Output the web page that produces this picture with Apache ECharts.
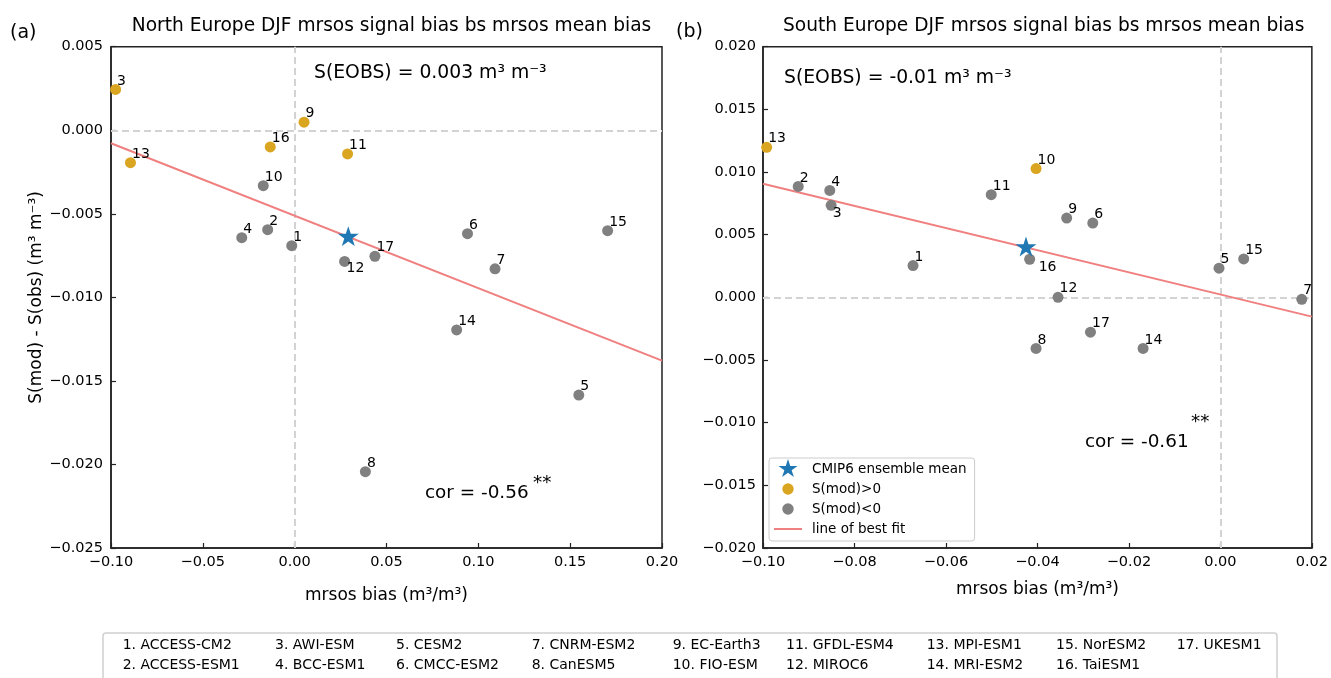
<!DOCTYPE html>
<html>
<head>
<meta charset="utf-8">
<script src="https://cdn.jsdelivr.net/npm/echarts@6/dist/echarts.min.js"></script>
<style>
html, body { margin: 0; padding: 0; background: #fff; }
#chart { width: 1331px; height: 678px; }
</style>
</head>
<body>
<div id="chart"></div>
<script>
// model numbers and names (index i -> model number i+1)
const modelIds = [1, 2, 3, 4, 5, 6, 7, 8, 9, 10, 11, 12, 13, 14, 15, 16, 17];
const modelNames = ['ACCESS-CM2', 'ACCESS-ESM1', 'AWI-ESM', 'BCC-ESM1', 'CESM2', 'CMCC-ESM2', 'CNRM-ESM2',
    'CanESM5', 'EC-Earth3', 'FIO-ESM', 'GFDL-ESM4', 'MIROC6', 'MPI-ESM1', 'MRI-ESM2', 'NorESM2', 'TaiESM1', 'UKESM1'];

// North Europe: mrsos mean bias (x) vs signal bias (y)
const northBias = [-0.0016, -0.0147, -0.0975, -0.0288, 0.1547, 0.0941, 0.1091, 0.0385, 0.0051,
    -0.0171, 0.0288, 0.0272, -0.0894, 0.0882, 0.1704, -0.0133, 0.0437];
const northSignal = [-0.00691, -0.00595, 0.00244, -0.00643, -0.01585, -0.00619, -0.00829, -0.02043, 0.00048,
    -0.00332, -0.00142, -0.00785, -0.00194, -0.01195, -0.00601, -0.00100, -0.00754];
const northPositive = [3, 9, 11, 13, 16];   // models with S(mod)>0
const northMean = [0.0292, -0.0064];
const northFitX = [-0.10, 0.20];
const northFitY = [-0.00078, -0.01379];

// South Europe
const southBias = [-0.0672, -0.0923, -0.0851, -0.0854, -0.0003, -0.0279, 0.0178, -0.0403, -0.0336,
    -0.0403, -0.0501, -0.0355, -0.0992, -0.0169, 0.0051, -0.0417, -0.0284];
const southSignal = [0.00254, 0.00885, 0.00734, 0.00853, 0.00233, 0.00593, -0.00016, -0.00408, 0.00633,
    0.01028, 0.00819, 0.00000, 0.01197, -0.00408, 0.00307, 0.00304, -0.00278];
const southPositive = [10, 13];
const southMean = [-0.0425, 0.00397];
const southFitX = [-0.10, 0.02];
const southFitY = [0.00906, -0.00154];

// axis ticks: [min, max, step]
const northXTicks = [-0.10, 0.20, 0.05];
const northYTicks = [-0.025, 0.005, 0.005];
const southXTicks = [-0.10, 0.02, 0.02];
const southYTicks = [-0.020, 0.020, 0.005];

const FONT = 'DejaVu Sans';
const starPath = 'path://M0,0M20,20M10,0L12.245,6.91L19.511,6.91L13.633,11.18L15.878,18.09L10,13.82L4.122,18.09L6.367,11.18L0.489,6.91L7.755,6.91Z';
const dotPath = 'path://M0,0M20,20M4.3,10A5.7,5.7,0,1,1,15.7,10A5.7,5.7,0,1,1,4.3,10Z';
const linePath = 'path://M0,0M28,20M0,9H28V11H0Z';

function fmt(digits) {
    return function (v) {
        if (Math.abs(v) < 1e-9) v = 0;
        return v.toFixed(digits).replace('-', '\u2212');
    };
}

// label placement: above-right by default, some below-right
function labelOffset(panel, id) {
    if (panel === 'north' && id === 12) return [-3.5, 7];
    if (panel === 'south' && id === 3) return [-4, 7.5];
    if (panel === 'south' && id === 16) return [3.5, 8.5];
    return [-4, -8.5];
}

function points(panel, xs, ys, posList, wantPos) {
    const out = [];
    modelIds.forEach(function (id, i) {
        const isPos = posList.indexOf(id) >= 0;
        if (isPos !== wantPos) return;
        out.push({
            name: String(id),
            value: [xs[i], ys[i]],
            label: { offset: labelOffset(panel, id) }
        });
    });
    return out;
}

function panelSeries(k, panel, xs, ys, posList, mean, fitX, fitY) {
    return [
        {
            name: 'line of best fit', type: 'line', xAxisIndex: k, yAxisIndex: k, z: 2,
            symbol: 'none', data: [[fitX[0], fitY[0]], [fitX[1], fitY[1]]],
            lineStyle: { color: '#f08080', width: 2 }, itemStyle: { color: '#f08080' },
            silent: true,
            markLine: {
                silent: true, symbol: ['none', 'none'], z: 1, animation: false,
                label: { show: false },
                lineStyle: { color: '#d3d3d3', type: [7, 4], width: 2 },
                data: [{ xAxis: 0 }, { yAxis: 0 }]
            }
        },
        {
            name: 'S(mod)>0', type: 'scatter', xAxisIndex: k, yAxisIndex: k, z: 3,
            symbol: 'circle', symbolSize: 11, itemStyle: { color: '#daa520', opacity: 1 },
            label: { show: true, position: 'right', distance: 0, formatter: '{b}',
                fontFamily: FONT, fontSize: 14, color: '#000' },
            data: points(panel, xs, ys, posList, true)
        },
        {
            name: 'S(mod)<0', type: 'scatter', xAxisIndex: k, yAxisIndex: k, z: 3,
            symbol: 'circle', symbolSize: 11, itemStyle: { color: '#808080', opacity: 1 },
            label: { show: true, position: 'right', distance: 0, formatter: '{b}',
                fontFamily: FONT, fontSize: 14, color: '#000' },
            data: points(panel, xs, ys, posList, false)
        },
        {
            name: 'CMIP6 ensemble mean', type: 'scatter', xAxisIndex: k, yAxisIndex: k, z: 4,
            symbol: starPath, symbolSize: 22, symbolKeepAspect: true,
            itemStyle: { color: '#1f77b4', opacity: 1 },
            data: [mean]
        }
    ];
}

function axisCommon(ticks, digits) {
    return {
        type: 'value', min: ticks[0], max: ticks[1], interval: ticks[2],
        splitLine: { show: false },
        axisLine: { show: true, onZero: false, lineStyle: { color: '#222', width: 1.5 } },
        axisTick: { show: true, inside: true, length: 5, lineStyle: { color: '#222', width: 1.2 } },
        axisLabel: { formatter: fmt(digits), fontFamily: FONT, fontSize: 14.5, color: '#000', showMaxLabel: true, showMinLabel: true },
        nameTextStyle: { fontFamily: FONT, fontSize: 17, color: '#000' }
    };
}

const gridBox = { show: true, borderColor: '#222', borderWidth: 1.5, backgroundColor: 'transparent' };

const xA0 = Object.assign(axisCommon(northXTicks, 2), { gridIndex: 0, name: 'mrsos bias (m³/m³)', nameLocation: 'middle', nameGap: 39 });
xA0.axisLabel.margin = 7;
const xA1 = Object.assign(axisCommon(southXTicks, 2), { gridIndex: 1, name: 'mrsos bias (m³/m³)', nameLocation: 'middle', nameGap: 33 });
xA1.axisLabel.margin = 7;
const yA0 = Object.assign(axisCommon(northYTicks, 3), { gridIndex: 0, name: 'S(mod) - S(obs) (m³ m⁻³)', nameLocation: 'middle', nameGap: 64 });
yA0.axisLabel.margin = 8;
const yA1 = Object.assign(axisCommon(southYTicks, 3), { gridIndex: 1 });
yA1.axisLabel.margin = 7;

// model list below the panels
const colX = [122.7, 275, 396, 531.7, 672.7, 786, 926.7, 1056, 1176.7];
const listText = [];
modelIds.forEach(function (id, i) {
    const col = Math.floor(i / 2), row = i % 2;
    listText.push({
        type: 'text', left: colX[col], top: row === 0 ? 638 : 658,
        style: { text: id + '. ' + modelNames[i], fontFamily: FONT, fontSize: 14, fill: '#000' }
    });
});

const txt = function (x, y, s, size) {
    return { type: 'text', x: x, y: y, style: { text: s, fontFamily: FONT, fontSize: size, fill: '#000', textVerticalAlign: 'middle' } };
};

const chart = echarts.init(document.getElementById('chart'), null, { renderer: 'canvas' });
chart.setOption({
    animation: false,
    backgroundColor: '#fff',
    title: [
        { text: 'North Europe DJF mrsos signal bias bs mrsos mean bias', left: 386.5, top: 12, textAlign: 'center',
            textStyle: { fontFamily: FONT, fontSize: 18.6, fontWeight: 'normal', color: '#000' } },
        { text: 'South Europe DJF mrsos signal bias bs mrsos mean bias', left: 1038.7, top: 12, textAlign: 'center',
            textStyle: { fontFamily: FONT, fontSize: 18.6, fontWeight: 'normal', color: '#000' } }
    ],
    grid: [
        Object.assign({ left: 111, top: 46.7, width: 551, height: 501.3 }, gridBox),
        Object.assign({ left: 763, top: 46.7, width: 551.5, height: 501.3 }, gridBox)
    ],
    xAxis: [xA0, xA1],
    yAxis: [yA0, yA1],
    legend: {
        orient: 'vertical', left: 769, top: 458,
        itemWidth: 28, itemHeight: 20, itemGap: 0,
        padding: [1, 8, 2, 5],
        backgroundColor: '#fff', borderColor: '#ccc', borderWidth: 1, borderRadius: 3,
        selectedMode: false,
        textStyle: { fontFamily: FONT, fontSize: 13.5, color: '#000', padding: [0, 0, 0, 5] },
        data: [
            { name: 'CMIP6 ensemble mean', icon: starPath },
            { name: 'S(mod)>0', icon: dotPath },
            { name: 'S(mod)<0', icon: dotPath },
            { name: 'line of best fit', icon: linePath }
        ]
    },
    graphic: [
        txt(10, 33, '(a)', 19),
        txt(676, 32, '(b)', 19),
        txt(314, 73, 'S(EOBS) = 0.003 m³ m⁻³', 18.8),
        txt(784, 78, 'S(EOBS) = -0.01 m³ m⁻³', 18.8),
        txt(425, 493, 'cor = -0.56', 18.4),
        txt(533, 483, '**', 18.4),
        txt(1085, 442, 'cor = -0.61', 18.4),
        txt(1191, 422, '**', 18.4),
        { type: 'rect', shape: { x: 103, y: 633, width: 1174, height: 80, r: 3 },
            style: { fill: '#fff', stroke: '#d0d0d0', lineWidth: 1.5 } }
    ].concat(listText),
    series: []
        .concat(panelSeries(0, 'north', northBias, northSignal, northPositive, northMean, northFitX, northFitY))
        .concat(panelSeries(1, 'south', southBias, southSignal, southPositive, southMean, southFitX, southFitY))
});
window.onresize = chart.resize;
</script>
</body>
</html>
